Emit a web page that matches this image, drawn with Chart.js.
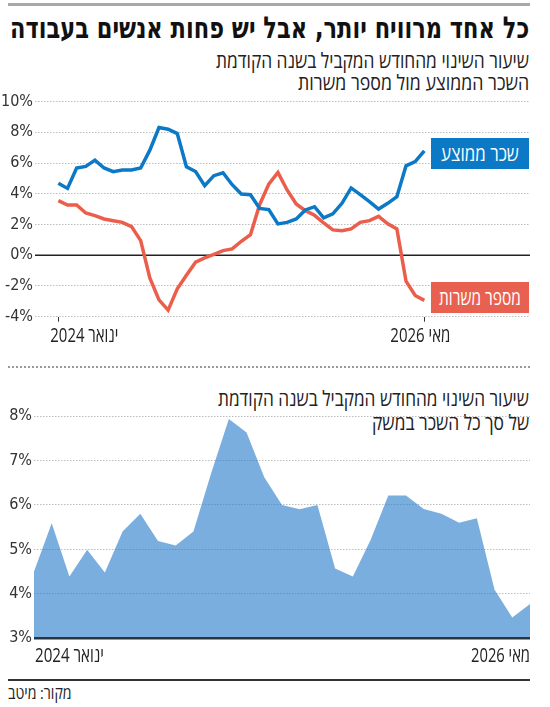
<!DOCTYPE html>
<html lang="he"><head><meta charset="utf-8">
<script src="https://cdn.jsdelivr.net/npm/chart.js@4.4.1/dist/chart.umd.min.js"></script>
<style>
html,body{margin:0;padding:0;background:#fff;width:550px;height:707px;overflow:hidden;}
#wrap{position:relative;width:550px;height:707px;}
.t{position:absolute;white-space:nowrap;direction:rtl;transform-origin:right center;color:#222;font-family:"DejaVu Sans Condensed","DejaVu Sans",sans-serif;}
.title{right:21px;top:13px;font-size:30px;line-height:30px;font-weight:bold;color:#111;}
.sub{right:21px;font-size:21px;line-height:22px;font-family:"Open Sans","DejaVu Sans Condensed",sans-serif;font-weight:400;color:#222;}
.box{position:absolute;left:431px;width:98px;height:31px;color:#fff;font-family:"Open Sans","DejaVu Sans Condensed",sans-serif;font-size:20px;line-height:31px;text-align:center;direction:rtl;white-space:nowrap;overflow:hidden;display:flex;justify-content:center;}
.box span{display:inline-block;white-space:nowrap;flex:none;transform-origin:center center;}
.rule{position:absolute;left:8px;width:522px;}
canvas{position:absolute;left:0;}
</style></head>
<body><div id="wrap">
<div class="rule" style="top:3px;height:3px;background:#a8a8a8;"></div>
<div class="t title fit" data-w="519">כל אחד מרוויח יותר, אבל יש פחות אנשים בעבודה</div>
<div class="t sub fit" data-w="313" style="top:49px;">שיעור השינוי מהחודש המקביל בשנה הקודמת</div>
<div class="t sub fit" data-w="231" style="top:71px;">השכר הממוצע מול מספר משרות</div>
<div style="position:absolute;left:0;top:90px;width:550px;height:260px;"><canvas id="c1" width="550" height="260" style="top:0"></canvas></div>
<div class="box" style="top:138px;background:#0b79c6;"><span class="fitc" data-w="78">שכר ממוצע</span></div>
<div class="box" style="top:282px;background:#e8604f;"><span class="fitc" data-w="82">מספר משרות</span></div>
<div class="rule" style="top:366px;height:0;border-top:2px dotted #999;"></div>
<div class="t sub fit" data-w="311" style="top:387px;">שיעור השינוי מהחודש המקביל בשנה הקודמת</div>
<div class="t sub fit" data-w="157" style="top:411px;">של סך כל השכר במשק</div>
<div style="position:absolute;left:0;top:380px;width:550px;height:300px;"><canvas id="c2" width="550" height="300" style="top:0"></canvas></div>
<div class="rule" style="top:679px;height:2px;background:#333;"></div>
<div class="t sub" style="left:8px;right:auto;top:683px;font-size:17px;line-height:20px;transform-origin:left center;" id="src">מקור: מיטב</div>
</div>
<script>
// ---- DATA ----
const topTickLabels = ['ינואר 2024', 'מאי 2026'];
const avgWage = [4.68,4.35,5.68,5.78,6.19,5.68,5.44,5.55,5.55,5.68,6.84,8.31,8.2,7.92,5.76,5.45,4.53,5.18,5.37,4.59,3.99,3.94,3.05,2.97,2.04,2.14,2.36,2.95,3.16,2.43,2.69,3.38,4.38,3.94,3.49,3.01,3.38,3.81,5.82,6.1,6.8];
const jobs = [3.55,3.27,3.27,2.75,2.58,2.36,2.25,2.14,1.86,0.95,-1.47,-2.9,-3.57,-2.18,-1.3,-0.45,-0.17,0.05,0.3,0.41,0.91,1.34,3.29,4.63,5.39,4.25,3.34,2.9,2.6,2.1,1.65,1.6,1.71,2.14,2.25,2.53,2.04,1.71,-1.69,-2.62,-2.94];
const months = ['ינואר 2024','פברואר 2024','מרץ 2024','אפריל 2024','מאי 2024','יוני 2024','יולי 2024','אוגוסט 2024','ספטמבר 2024','אוקטובר 2024','נובמבר 2024','דצמבר 2024','ינואר 2025','פברואר 2025','מרץ 2025','אפריל 2025','מאי 2025','יוני 2025','יולי 2025','אוגוסט 2025','ספטמבר 2025','אוקטובר 2025','נובמבר 2025','דצמבר 2025','ינואר 2026','פברואר 2026','מרץ 2026','אפריל 2026','מאי 2026'];
const totalWage = [4.5,5.59,4.39,4.99,4.48,5.4,5.8,5.19,5.09,5.4,6.71,7.93,7.63,6.62,6.0,5.9,6.0,4.57,4.39,5.21,6.21,6.21,5.91,5.8,5.6,5.7,4.09,3.47,3.77];
const topYTicks = [-4,-2,0,2,4,6,8,10];
const bottomYTicks = [3,4,5,6,7,8];

// ---- text fitting ----
document.querySelectorAll('.fit').forEach(el=>{const w=el.offsetWidth;el.style.transform='scaleX('+(el.dataset.w/w)+')';});
document.querySelectorAll('.fitc').forEach(el=>{const w=el.offsetWidth;el.style.transform='scaleX('+(el.dataset.w/w)+')';});
(function(){const el=document.getElementById('src');el.style.transform='scaleX('+(64/el.offsetWidth)+')';})();

const NUMFONT = '"Liberation Sans Narrow","DejaVu Sans Condensed",sans-serif';
const HEBFONT = '"Open Sans","DejaVu Sans Condensed",sans-serif';
Chart.defaults.font.family = NUMFONT;
Chart.defaults.color = '#333';

function fittedText(ctx, text, x, y, w, align){
  ctx.save();
  ctx.font = '400 20px ' + HEBFONT;
  ctx.direction = 'rtl';
  ctx.textBaseline = 'middle';
  ctx.fillStyle = '#222';
  const m = ctx.measureText(text).width;
  const s = w / m;
  ctx.translate(x, y);
  ctx.scale(s, 1);
  ctx.textAlign = align;
  ctx.fillText(text, 0, 0);
  ctx.restore();
}

const grid = {color:'#bdbdbd', lineWidth:1, drawTicks:false};
const border = {display:false, dash:[1.5,1.5]};

// ---- top chart ----
new Chart(document.getElementById('c1'), {
  type:'line',
  data:{datasets:[
    {data:avgWage.map((v,i)=>({x:i,y:v})), borderColor:'#0b79c6', borderWidth:3.5, pointRadius:0, tension:0, borderJoinStyle:'miter'},
    {data:jobs.map((v,i)=>({x:i,y:v})), borderColor:'#ea5e4b', borderWidth:3.5, pointRadius:0, tension:0, borderJoinStyle:'miter'}
  ]},
  options:{
    animation:false, responsive:false, devicePixelRatio:1,
    layout:{padding:{top:11,right:20,left:0,bottom:0}},
    plugins:{legend:{display:false}, tooltip:{enabled:false}},
    scales:{
      x:{type:'linear', min:-2.55, max:51.55,
        afterBuildTicks:s=>{s.ticks=[{value:0},{value:avgWage.length-1}];},
        afterFit:s=>{s.height=33.3;},
        grid:{drawOnChartArea:false, drawTicks:true, tickLength:5, color:'#333', lineWidth:1},
        border:{display:false},
        ticks:{callback:()=>'', padding:0}
      },
      y:{min:-4, max:10,
        afterBuildTicks:s=>{s.ticks=topYTicks.map(v=>({value:v}));},
        afterFit:s=>{s.width=35;},
        grid:grid, border:border,
        ticks:{callback:v=>v+'%', padding:2, font:{size:16}, color:'#333'}
      }
    }
  },
  plugins:[{
    id:'extras',
    beforeDatasetsDraw(c){
      const {ctx,chartArea:a,scales:{y}}=c; const py=y.getPixelForValue(0);
      ctx.save(); ctx.strokeStyle='#222'; ctx.lineWidth=1.5; ctx.beginPath(); ctx.moveTo(a.left,py); ctx.lineTo(a.right,py); ctx.stroke(); ctx.restore();
    },
    afterDraw(c){
      const {scales:{x}}=c;
      const y0 = 246.5;
      fittedText(c.ctx, topTickLabels[0], x.getPixelForValue(0)-8, y0, 68, 'left');
      fittedText(c.ctx, topTickLabels[1], x.getPixelForValue(avgWage.length-1)-4, y0, 60, 'center');
    }
  }]
});

// ---- bottom chart ----
new Chart(document.getElementById('c2'), {
  type:'line',
  data:{labels:months, datasets:[
    {data:totalWage, backgroundColor:'rgba(33,120,202,0.6)', borderWidth:0, pointRadius:0, tension:0, fill:'start'}
  ]},
  options:{
    animation:false, responsive:false, devicePixelRatio:1,
    layout:{padding:{top:36,right:20,left:0,bottom:0}},
    plugins:{legend:{display:false}, tooltip:{enabled:false}},
    scales:{
      x:{type:'category', offset:false,
        afterFit:s=>{s.height=41.7;},
        grid:{display:false}, border:{display:false},
        ticks:{callback:()=>'', padding:0}
      },
      y:{min:3, max:8,
        afterBuildTicks:s=>{s.ticks=bottomYTicks.map(v=>({value:v}));},
        afterFit:s=>{s.width=34;},
        grid:grid, border:border,
        ticks:{callback:v=>v+'%', padding:2, font:{size:16}, color:'#333'}
      }
    }
  },
  plugins:[{
    id:'extras2',
    afterDatasetsDraw(c){
      const {ctx,chartArea:a,scales:{y}}=c; const py=y.getPixelForValue(3);
      ctx.save(); ctx.strokeStyle='#2a3440'; ctx.lineWidth=2.5; ctx.beginPath(); ctx.moveTo(a.left,py); ctx.lineTo(a.right,py); ctx.stroke(); ctx.restore();
    },
    afterDraw(c){
      const {scales:{x}}=c;
      const y0 = 276;
      fittedText(c.ctx, months[0], x.getPixelForValue(0)+1, y0, 69, 'left');
      fittedText(c.ctx, months[months.length-1], x.getPixelForValue(months.length-1), y0, 59, 'right');
    }
  }]
});
</script>
</body></html>
